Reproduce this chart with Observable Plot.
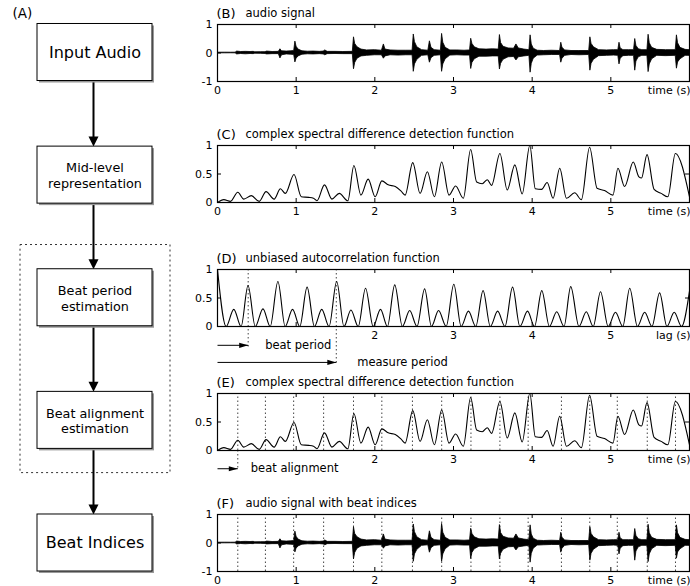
<!DOCTYPE html>
<html><head><meta charset="utf-8">
<script src="https://cdn.jsdelivr.net/npm/d3@7"></script>
<script src="https://cdn.jsdelivr.net/npm/@observablehq/plot@0.6"></script>
<style>
body{margin:0;background:#fff;}
#fig{position:relative;width:690px;height:586px;overflow:hidden;font-family:"DejaVu Sans",sans-serif;}
</style></head><body><div id="fig"></div>
<script>
// ---------- data ----------
const steps = ["Input Audio", "Mid-level\nrepresentation", "Beat period\nestimation", "Beat alignment\nestimation", "Beat Indices"];
const bigSteps = [0, 4];
const groupedSteps = [2, 3];

// audio envelope: [time (s), upper, lower]
const audioEnvelope = [
  [0.00,0.01,-0.01],[0.10,0.012,-0.012],[0.17,0.01,-0.01],[0.23,0.012,-0.012],[0.25,0.05,-0.05],[0.30,0.035,-0.035],
  [0.36,0.04,-0.045],[0.42,0.035,-0.035],[0.46,0.04,-0.04],[0.48,0.025,-0.025],[0.55,0.03,-0.03],[0.61,0.03,-0.035],
  [0.63,0.05,-0.05],[0.70,0.035,-0.04],[0.78,0.04,-0.04],[0.80,0.13,-0.19],[0.82,0.06,-0.08],[0.88,0.05,-0.05],
  [0.94,0.06,-0.06],[0.975,0.07,-0.07],[0.99,0.40,-0.33],[1.005,0.22,-0.20],[1.03,0.12,-0.12],[1.08,0.06,-0.06],
  [1.15,0.045,-0.045],[1.22,0.05,-0.05],[1.30,0.04,-0.04],[1.35,0.05,-0.05],[1.37,0.09,-0.08],[1.40,0.04,-0.04],
  [1.50,0.04,-0.035],[1.60,0.035,-0.04],[1.72,0.04,-0.04],[1.735,0.55,-0.57],[1.75,0.32,-0.35],[1.78,0.20,-0.20],
  [1.83,0.12,-0.12],[1.90,0.09,-0.10],[2.00,0.10,-0.08],[2.09,0.08,-0.08],[2.115,0.30,-0.20],[2.135,0.12,-0.12],
  [2.20,0.09,-0.08],[2.30,0.08,-0.09],[2.40,0.08,-0.08],[2.48,0.08,-0.08],[2.495,0.65,-0.66],[2.51,0.38,-0.40],
  [2.54,0.20,-0.24],[2.60,0.10,-0.10],[2.68,0.08,-0.08],[2.70,0.41,-0.34],[2.72,0.18,-0.18],[2.76,0.10,-0.10],
  [2.84,0.08,-0.08],[2.855,0.67,-0.66],[2.87,0.36,-0.40],[2.90,0.18,-0.22],[2.96,0.09,-0.09],[3.05,0.09,-0.08],
  [3.14,0.08,-0.09],[3.21,0.09,-0.09],[3.225,0.50,-0.56],[3.24,0.32,-0.35],[3.27,0.20,-0.22],[3.33,0.13,-0.13],
  [3.42,0.12,-0.13],[3.50,0.13,-0.12],[3.575,0.12,-0.12],[3.59,0.63,-0.58],[3.605,0.35,-0.38],[3.635,0.22,-0.24],
  [3.70,0.16,-0.15],[3.77,0.15,-0.14],[3.80,0.30,-0.26],[3.83,0.16,-0.15],[3.90,0.12,-0.12],[3.965,0.10,-0.10],
  [3.98,0.62,-0.69],[3.995,0.30,-0.38],[4.02,0.15,-0.20],[4.07,0.08,-0.09],[4.15,0.07,-0.08],[4.25,0.08,-0.07],
  [4.355,0.07,-0.07],[4.37,0.36,-0.34],[4.385,0.18,-0.20],[4.42,0.09,-0.10],[4.50,0.07,-0.07],[4.60,0.07,-0.08],
  [4.725,0.07,-0.07],[4.74,0.55,-0.62],[4.755,0.32,-0.38],[4.785,0.20,-0.24],[4.85,0.10,-0.11],[4.95,0.09,-0.10],
  [5.04,0.10,-0.09],[5.095,0.10,-0.10],[5.11,0.36,-0.40],[5.125,0.16,-0.20],[5.16,0.10,-0.11],[5.23,0.10,-0.10],
  [5.295,0.10,-0.10],[5.31,0.49,-0.62],[5.325,0.25,-0.30],[5.355,0.13,-0.15],[5.40,0.10,-0.10],[5.465,0.10,-0.10],
  [5.48,0.64,-0.67],[5.495,0.34,-0.40],[5.525,0.18,-0.22],[5.59,0.11,-0.10],[5.70,0.10,-0.11],[5.825,0.10,-0.10],
  [5.84,0.62,-0.55],[5.855,0.34,-0.33],[5.885,0.18,-0.22],[5.95,0.11,-0.10],[6.00,0.10,-0.10]
];

// complex spectral difference detection function: [time (s), value]
const detectionFunction = [
  [0,0],[0.08,0.05],[0.165,0.02],[0.258,0.18],[0.334,0.06],[0.43,0.12],[0.53,0.02],[0.617,0.19],[0.72,0.06],
  [0.80,0.24],[0.862,0.16],[0.973,0.49],[1.065,0.10],[1.16,0.09],[1.22,0.075],[1.264,0.03],[1.36,0.31],
  [1.455,0.06],[1.548,0.16],[1.657,0.03],[1.734,0.65],[1.823,0.13],[1.915,0.41],[2.004,0.10],[2.089,0.38],
  [2.17,0.31],[2.26,0.28],[2.334,0.20],[2.385,0.13],[2.482,0.70],[2.575,0.16],[2.668,0.54],[2.757,0.10],
  [2.85,0.71],[2.943,0.13],[3.027,0.29],[3.125,0.075],[3.218,0.93],[3.294,0.36],[3.366,0.33],[3.43,0.40],
  [3.484,0.30],[3.59,0.86],[3.683,0.22],[3.78,0.66],[3.873,0.15],[3.97,1.0],[4.04,0.24],[4.12,0.23],
  [4.19,0.35],[4.266,0.075],[4.35,0.60],[4.436,0.075],[4.54,0.17],[4.626,0.05],[4.73,0.97],[4.825,0.25],
  [4.92,0.21],[5.027,0.13],[5.09,0.60],[5.175,0.28],[5.285,0.71],[5.357,0.45],[5.39,0.43],[5.46,0.84],
  [5.55,0.23],[5.64,0.16],[5.725,0.10],[5.82,0.86],[6.0,0.10]
];

// unbiased autocorrelation function: [lag (s), value]
const autocorrelation = [
  [0,1.0],[0.11,0],[0.207,0.30],[0.30,0],[0.388,0.72],[0.48,0],[0.578,0.31],[0.67,0],[0.768,0.79],[0.86,0],
  [0.954,0.30],[1.046,0],[1.139,0.69],[1.232,0],[1.325,0.30],[1.418,0],[1.515,0.79],[1.608,0],[1.696,0.29],
  [1.789,0],[1.882,0.67],[1.979,0],[2.072,0.30],[2.16,0],[2.253,0.73],[2.35,0],[2.443,0.28],[2.536,0],
  [2.633,0.66],[2.72,0],[2.81,0.28],[2.907,0],[3.004,0.74],[3.097,0],[3.19,0.27],[3.283,0],[3.376,0.63],
  [3.468,0],[3.561,0.27],[3.654,0],[3.751,0.69],[3.844,0],[3.941,0.27],[4.03,0],[4.122,0.63],[4.219,0],
  [4.312,0.26],[4.405,0],[4.49,0.70],[4.595,0],[4.688,0.26],[4.776,0],[4.869,0.61],[4.966,0],[5.059,0.25],
  [5.152,0],[5.24,0.67],[5.338,0],[5.43,0.25],[5.523,0],[5.62,0.59],[5.713,0],[5.806,0.25],[5.899,0],[6.0,0.62]
];

const beatTimes = [0.258,0.609,0.968,1.349,1.729,2.089,2.478,2.85,3.222,3.59,3.949,4.372,4.732,5.082,5.463,5.822];
const beatPeriod = 0.39;
const measurePeriod = 1.51;

const xTicksAll = [0,1,2,3,4,5];
const xTicksLate = [2,3,4,5];
const yTicksSigned = [-1,0,1];
const yTicksUnit = [0,0.5,1];

// ---------- layout ----------
const fig = document.getElementById("fig");
const FONT = "'DejaVu Sans', sans-serif";
const MT = 30, IN = 57, MB = 45, FW = 472;
const dotted = {stroke: "#444", strokeWidth: 1, strokeDasharray: "1.5,2.5"};

// filled arrow-head symbols (tip at the anchor point, pointing right before rotation)
const smallHead = {draw(ctx) { ctx.moveTo(0, 0); ctx.lineTo(-9, -2.6); ctx.lineTo(-9, 2.6); ctx.closePath(); }};
const bigHead = {draw(ctx) { ctx.moveTo(0, 0); ctx.lineTo(-10, -5); ctx.lineTo(-10, 5); ctx.closePath(); }};

function place(el, left, top) {
  el.style.position = "absolute";
  el.style.left = left + "px";
  el.style.top = top + "px";
  fig.appendChild(el);
}

function hArrow(x2, y) {
  return [
    Plot.link([x2], {x1: 0, x2: d => d, y1: y, y2: y, stroke: "black", strokeWidth: 1}),
    Plot.dot([x2], {x: d => d, y: y, symbol: smallHead, fill: "black", stroke: "none"})
  ];
}

function panel(top, {letter, title, yDomain, yTicks, xLabels, xTitle, marks}) {
  const el = Plot.plot({
    width: 690, height: MT + IN + MB,
    marginLeft: 217, marginRight: 1, marginTop: MT, marginBottom: MB,
    x: {domain: [0, 6]},
    y: {domain: yDomain},
    style: {background: "transparent", fontFamily: FONT, fontSize: "11px", color: "black", overflow: "visible"},
    marks: [
      ...marks,
      Plot.frame({stroke: "black", strokeWidth: 1.2}),
      Plot.tickX([1,2,3,4,5], {x: d => d, insetTop: IN - 4, stroke: "black"}),
      Plot.tickX([1,2,3,4,5], {x: d => d, insetBottom: IN - 4, stroke: "black"}),
      Plot.tickY(yTicks, {y: d => d, insetRight: FW - 4, stroke: "black"}),
      Plot.tickY(yTicks, {y: d => d, insetLeft: FW - 4, stroke: "black"}),
      Plot.axisX(xLabels, {tickSize: 0, tickPadding: 5, label: null, tickFormat: d => String(d), fontSize: 11}),
      Plot.axisY(yTicks, {tickSize: 0, tickPadding: 5, label: null, tickFormat: d => String(d), fontSize: 11}),
      Plot.text([xTitle], {text: d => d, frameAnchor: "bottom-right", textAnchor: "end", lineAnchor: "top", dy: 5, dx: 1, fontSize: 11}),
      Plot.text([letter], {text: d => d, frameAnchor: "top-left", textAnchor: "start", lineAnchor: "middle", dy: -11, dx: -1, fontSize: 13}),
      Plot.text([title], {text: d => d, frameAnchor: "top-left", textAnchor: "start", lineAnchor: "middle", dy: -11, dx: 28, fontSize: 11.5})
    ]
  });
  place(el, 0, top);
}

const audioRows = audioEnvelope.map(([t, hi, lo]) => ({t, hi, lo}));
const dfRows = detectionFunction.map(([t, v]) => ({t, v}));
const acfRows = autocorrelation.map(([t, v]) => ({t, v}));

const audioMark = () => Plot.areaY(audioRows, {x: "t", y1: "lo", y2: "hi", fill: "black", stroke: "black", strokeWidth: 0.8, clip: true});
const dfMark = () => Plot.line(dfRows, {x: "t", y: "v", curve: "monotone-x", stroke: "black", strokeWidth: 1.1, clip: true});

// (B)
panel(-6, {letter: "(B)", title: "audio signal", yDomain: [-1, 1], yTicks: yTicksSigned, xLabels: xTicksAll, xTitle: "time (s)",
  marks: [audioMark()]});

// (C)
panel(115, {letter: "(C)", title: "complex spectral difference detection function", yDomain: [0, 1], yTicks: yTicksUnit, xLabels: xTicksAll, xTitle: "time (s)",
  marks: [dfMark()]});

// (D)
panel(239, {letter: "(D)", title: "unbiased autocorrelation function", yDomain: [0, 1], yTicks: yTicksUnit, xLabels: xTicksLate, xTitle: "lag (s)",
  marks: [
    Plot.ruleX([beatPeriod], {x: d => d, y1: 1, y2: -0.38, ...dotted}),
    Plot.ruleX([measurePeriod], {x: d => d, y1: 1, y2: -0.66, ...dotted}),
    Plot.line(acfRows, {x: "t", y: "v", curve: "monotone-x", stroke: "black", strokeWidth: 1.1, clip: true}),
    ...hArrow(beatPeriod, -0.33),
    ...hArrow(measurePeriod, -0.63),
    Plot.text(["beat period"], {text: d => d, x: beatPeriod, y: -0.33, dx: 17, textAnchor: "start", fontSize: 11.5}),
    Plot.text(["measure period"], {text: d => d, x: measurePeriod, y: -0.63, dx: 21, textAnchor: "start", fontSize: 11.5})
  ]});

// (E)
panel(363, {letter: "(E)", title: "complex spectral difference detection function", yDomain: [0, 1], yTicks: yTicksUnit, xLabels: xTicksLate, xTitle: "time (s)",
  marks: [
    Plot.ruleX(beatTimes, {x: d => d, y1: 0, y2: 1, ...dotted}),
    Plot.ruleX(beatTimes.slice(0, 1), {x: d => d, y1: 0, y2: -0.33, ...dotted}),
    dfMark(),
    ...hArrow(beatTimes[0], -0.32),
    Plot.text(["beat alignment"], {text: d => d, x: beatTimes[0], y: -0.32, dx: 13, textAnchor: "start", fontSize: 11.5})
  ]});

// (F)
panel(484, {letter: "(F)", title: "audio signal with beat indices", yDomain: [-1, 1], yTicks: yTicksSigned, xLabels: xTicksAll, xTitle: "time (s)",
  marks: [
    Plot.ruleX(beatTimes, {x: d => d, y1: -1, y2: 1, ...dotted}),
    audioMark()
  ]});

// (A) flow chart
const H = 0.2325;
const flowRows = steps.map((label, i) => ({i, label}));
const arrowRows = flowRows.slice(0, -1);
const flow = Plot.plot({
  width: 200, height: 586, margin: 0,
  x: {domain: [0, 200], range: [0, 200], axis: null},
  y: {domain: [0, 4], range: [52, 542.5], axis: null},
  style: {background: "transparent", fontFamily: FONT, color: "black"},
  marks: [
    Plot.rect([groupedSteps], {x1: 20, x2: 170, y1: d => d[0] - 0.43, y2: d => d[1] + 0.43, fill: "none", stroke: "#333", strokeDasharray: "2,3"}),
    Plot.link(arrowRows, {x1: 93, x2: 93, y1: d => d.i + H, y2: d => d.i + 1 - H - 0.06, stroke: "black", strokeWidth: 2}),
    Plot.dot(arrowRows, {x: 93, y: d => d.i + 1 - H, symbol: bigHead, rotate: 90, fill: "black", stroke: "none"}),
    Plot.rect(flowRows, {x1: 37, x2: 152, y1: d => d.i - H, y2: d => d.i + H, fill: "#999", dx: 2, dy: 2}),
    Plot.rect(flowRows, {x1: 37, x2: 152, y1: d => d.i - H, y2: d => d.i + H, fill: "white", stroke: "black", strokeWidth: 1}),
    Plot.text(flowRows.filter(d => bigSteps.includes(d.i)), {x: 94.5, y: "i", text: "label", fontSize: 16}),
    Plot.text(flowRows.filter(d => !bigSteps.includes(d.i)), {x: 94.5, y: "i", text: "label", fontSize: 12.8, lineHeight: 1.25}),
    Plot.text(["(A)"], {text: d => d, frameAnchor: "top-left", dx: 12, dy: 13, textAnchor: "start", lineAnchor: "middle", fontSize: 13.5})
  ]
});
place(flow, 0, 0);
</script></body></html>
